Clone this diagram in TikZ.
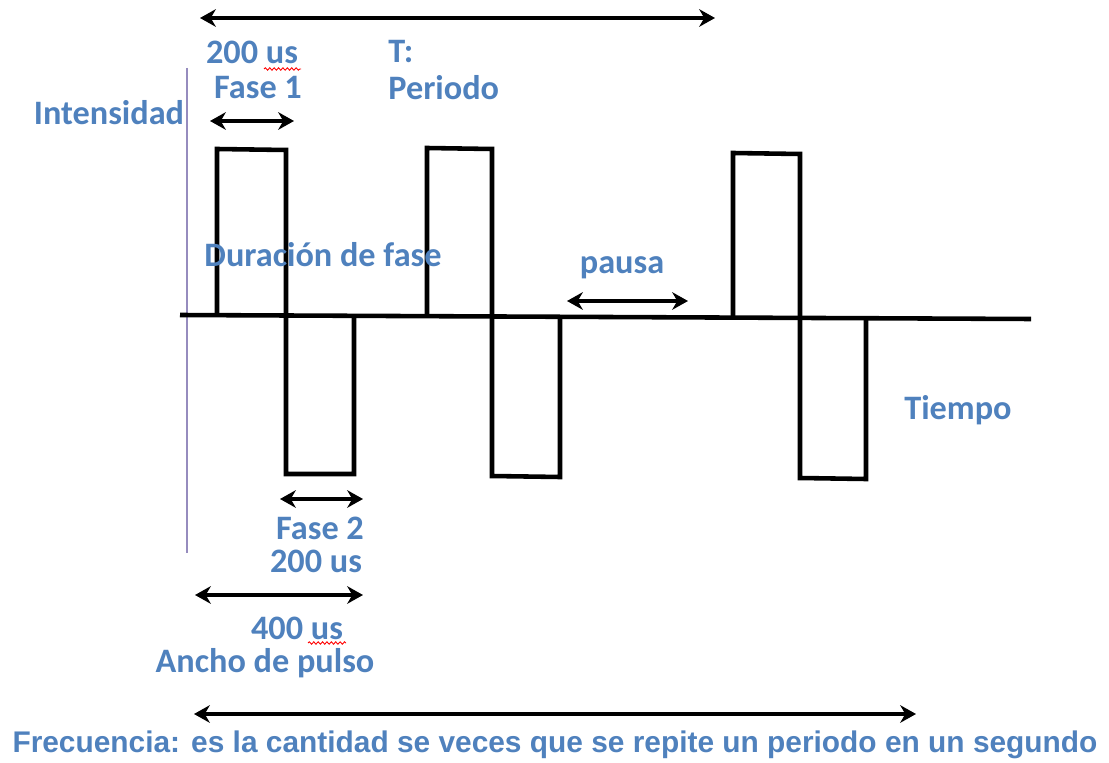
\documentclass[tikz,border=0pt]{standalone}
\usepackage{fontspec}
\setmainfont{Carlito}
\newfontfamily\arialfont{Liberation Sans}
\usepackage{xcolor}
\usetikzlibrary{arrows.meta,decorations.pathmorphing}
\definecolor{txtblue}{RGB}{79,129,189}
\definecolor{axisgray}{RGB}{150,140,190}

\tikzset{
  lbl/.style={text=txtblue,font=\fontsize{19.5}{23}\selectfont\bfseries,inner sep=0pt},
  span/.style={{Stealth[length=9pt,width=10pt]}-{Stealth[length=9pt,width=10pt]},line width=2.4pt},
  wave/.style={line width=2.6pt,line join=miter},
  spell/.style={red,line width=0.5pt,decorate,decoration={snake,segment length=2.5pt,amplitude=0.7pt}}
}

\begin{document}
\begin{tikzpicture}[x=0.02cm,y=-0.02cm]
\useasboundingbox (0,0) rectangle (1109,763);
\draw[axisgray,line width=0.8pt] (187,68) -- (187,553);
\draw[wave] (180,315) -- (1031,319);
\draw[wave] (217,315) -- (217,149) -- (286,150) -- (286,474) -- (354,474) -- (354,316);
\draw[wave] (427,316) -- (427,148) -- (492,149) -- (492,476) -- (560,477) -- (560,318);
\draw[wave] (733,318) -- (733,153) -- (800,154) -- (800,478) -- (866,479) -- (866,319);

\coordinate (perL) at (200,18);
\coordinate (perR) at (715,18);
\coordinate (fa1L) at (210,121);
\coordinate (fa1R) at (294,121);
\coordinate (pauL) at (567,301);
\coordinate (pauR) at (688,301);
\coordinate (fa2L) at (280,499);
\coordinate (fa2R) at (363,499);
\coordinate (anL) at (195,595);
\coordinate (anR) at (363,595);
\coordinate (frL) at (194,714);
\coordinate (frR) at (916,714);
\draw[span] (perL) -- (perR);
\draw[span] (fa1L) -- (fa1R);
\draw[span] (pauL) -- (pauR);
\draw[span] (fa2L) -- (fa2R);
\draw[span] (anL) -- (anR);
\draw[span] (frL) -- (frR);

\node[lbl] (intens) at (109,113) {Intensidad};
\node[lbl] (us1) at (252,52) {200 us};
\node[lbl] (fase1) at (258,88) {Fase 1};
\node[lbl,anchor=west] (tlab) at (388,52) {T:};
\node[lbl,anchor=west] (periodo) at (388,88) {Periodo};
\node[lbl] (durac) at (323,255) {Duración de fase};
\node[lbl] (pausa) at (622,268) {pausa};
\node[lbl] (tiempo) at (958,410) {Tiempo};
\node[lbl] (fase2) at (320,528) {Fase 2};
\node[lbl] (us2) at (316,561) {200 us};
\node[lbl] (us4) at (297,628) {400 us};
\node[lbl] (ancho) at (265,663) {Ancho de pulso};
\node[lbl,font=\arialfont\fontsize{17}{20}\selectfont\bfseries] (frec) at (555,745)
  {Frecuencia: es la cantidad se veces que se repite un periodo en un segundo};

\draw[spell] (264,69) -- (301,69);
\draw[spell] (308,643) -- (346,643);
\end{tikzpicture}
\end{document}
